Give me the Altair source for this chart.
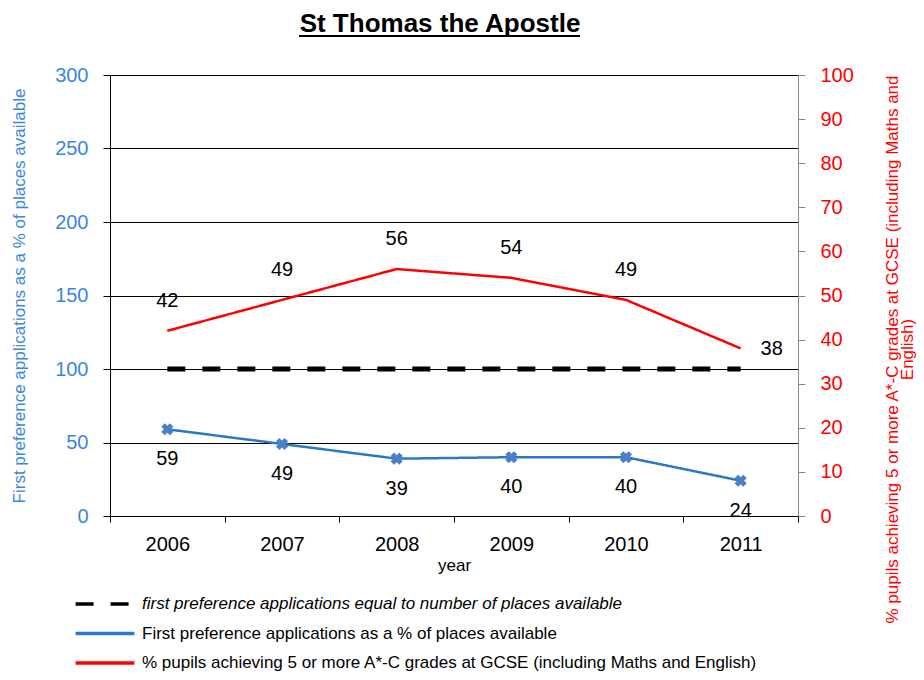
import altair as alt
import pandas as pd

years = ["2006", "2007", "2008", "2009", "2010", "2011"]
applications = [59, 49, 39, 40, 40, 24]
gcse = [42, 49, 56, 54, 49, 38]
equal_line = [100, 100, 100, 100, 100, 100]

TITLE = "St Thomas the Apostle"
S_DASH = "first preference applications equal to number of places available"
S_APP = "First preference applications as a % of places available"
S_GCSE = "% pupils achieving 5 or more A*-C grades at GCSE (including Maths and English)"
series_order = [S_DASH, S_APP, S_GCSE]

BLUE = "#2a78c8"
BLUE_TXT = "#3a86dc"
RED = "#ff0000"
FONT = "Liberation Sans"

df_app = pd.DataFrame({"year": years, "value": applications, "series": S_APP})
df_eq = pd.DataFrame({"year": years, "value": equal_line, "series": S_DASH})
df_gcse = pd.DataFrame({"year": years, "value": gcse, "series": S_GCSE})
df_title = pd.DataFrame({"title": [TITLE]})

x_enc = alt.X(
    "year:N",
    sort=years,
    scale=alt.Scale(paddingInner=0, paddingOuter=0),
    axis=alt.Axis(
        title="year", titleFontSize=17, titleFontWeight="normal", titleColor="black",
        titlePadding=3, labelFontSize=20, labelColor="black", labelAngle=0,
        labelPadding=12, tickBand="extent", tickSize=6, tickColor="black",
        domainColor="black", grid=False,
    ),
)

color_scale = alt.Scale(domain=series_order, range=["black", BLUE, RED])
dash_scale = alt.Scale(domain=series_order, range=[[18, 17], [1, 0], [1, 0]])

legend = alt.Legend(
    title=None, orient="none", legendX=-21, legendY=513, direction="vertical",
    symbolType="M-2.1,0H2.1", symbolSize=784, symbolStrokeWidth=3.5,
    labelFontSize=17, labelFont=FONT, labelColor="black", labelLimit=800,
    rowPadding=5.5, labelOffset=21,
    labelFontStyle=alt.ExprRef(expr="datum.value == '" + S_DASH + "' ? 'italic' : 'normal'"),
)

color_enc = alt.Color("series:N", scale=color_scale, legend=legend)
dash_enc = alt.StrokeDash("series:N", scale=dash_scale, legend=legend)

y_left_scale = alt.Scale(domain=[0, 300])
y_left_axis = alt.Axis(
    title="First preference applications as a % of places available",
    titleColor=BLUE_TXT, titleFontSize=17, titleFontWeight="normal", titlePadding=26,
    labelColor=BLUE_TXT, labelFontSize=20, labelPadding=15,
    values=[0, 50, 100, 150, 200, 250, 300], tickSize=7, tickColor="black",
    domainColor="black", grid=True, gridColor="black", gridWidth=1,
)

eq_line = alt.Chart(df_eq).mark_line(strokeWidth=5).encode(
    x=x_enc,
    y=alt.Y("value:Q", scale=y_left_scale, axis=y_left_axis),
    color=color_enc,
    strokeDash=dash_enc,
)

app_line = alt.Chart(df_app).mark_line(strokeWidth=2.5).encode(
    x=x_enc,
    y=alt.Y("value:Q", scale=y_left_scale),
    color=color_enc,
    strokeDash=dash_enc,
)

app_pts = alt.Chart(df_app).mark_point(
    shape="cross", angle=45, filled=True, size=150, color="#4a80c4", opacity=1
).encode(x=x_enc, y=alt.Y("value:Q", scale=y_left_scale))

app_txt = alt.Chart(df_app).mark_text(
    dy=30, fontSize=20, font=FONT, color="black"
).encode(x=x_enc, y=alt.Y("value:Q", scale=y_left_scale), text="value:Q")

# chart title drawn as text with an underline
title_txt = alt.Chart(df_title).mark_text(
    fontSize=26, fontWeight="bold", font=FONT, color="black", baseline="middle", align="center"
).encode(x=alt.value(330), y=alt.value(-51), text="title:N")

title_underline = alt.Chart(df_title).mark_rule(color="black", strokeWidth=2).encode(
    x=alt.value(189), x2=alt.value(470), y=alt.value(-39)
)

left = alt.layer(eq_line, app_line, app_pts, app_txt)

y_right_scale = alt.Scale(domain=[0, 100])
y_right_axis = alt.Axis(
    orient="right",
    title=["% pupils achieving 5 or more A*-C grades at GCSE (including Maths and", "English)"],
    titleColor=RED, titleFontSize=17, titleFontWeight="normal", titleAngle=270,
    titlePadding=33, titleY=274, titleLineHeight=15,
    labelColor=RED, labelFontSize=20, labelPadding=15,
    values=list(range(0, 101, 10)), tickSize=7, tickColor="#888888",
    domainColor="#888888", grid=False,
)

gcse_line = alt.Chart(df_gcse).mark_line(strokeWidth=2.5).encode(
    x=x_enc,
    y=alt.Y("value:Q", scale=y_right_scale, axis=y_right_axis),
    color=color_enc,
    strokeDash=dash_enc,
)

gcse_txt = alt.Chart(df_gcse).transform_filter(
    alt.datum.year != "2011"
).mark_text(dy=-30, fontSize=20, font=FONT, color="black").encode(
    x=x_enc, y=alt.Y("value:Q", scale=y_right_scale), text="value:Q"
)

gcse_txt_last = alt.Chart(df_gcse).transform_filter(
    alt.datum.year == "2011"
).mark_text(dx=31, dy=1, fontSize=20, font=FONT, color="black").encode(
    x=x_enc, y=alt.Y("value:Q", scale=y_right_scale), text="value:Q"
)

right = alt.layer(gcse_line, gcse_txt, gcse_txt_last)

chart = alt.layer(left, right, title_txt, title_underline).resolve_scale(
    y="independent"
).properties(
    width=688,
    height=441,
    padding={"top": 3, "left": 2, "right": 0, "bottom": 0},
).configure(font=FONT).configure_view(stroke="#888888", strokeWidth=1)

chart.save("out.html", embed_options={"renderer": "svg", "actions": False})
